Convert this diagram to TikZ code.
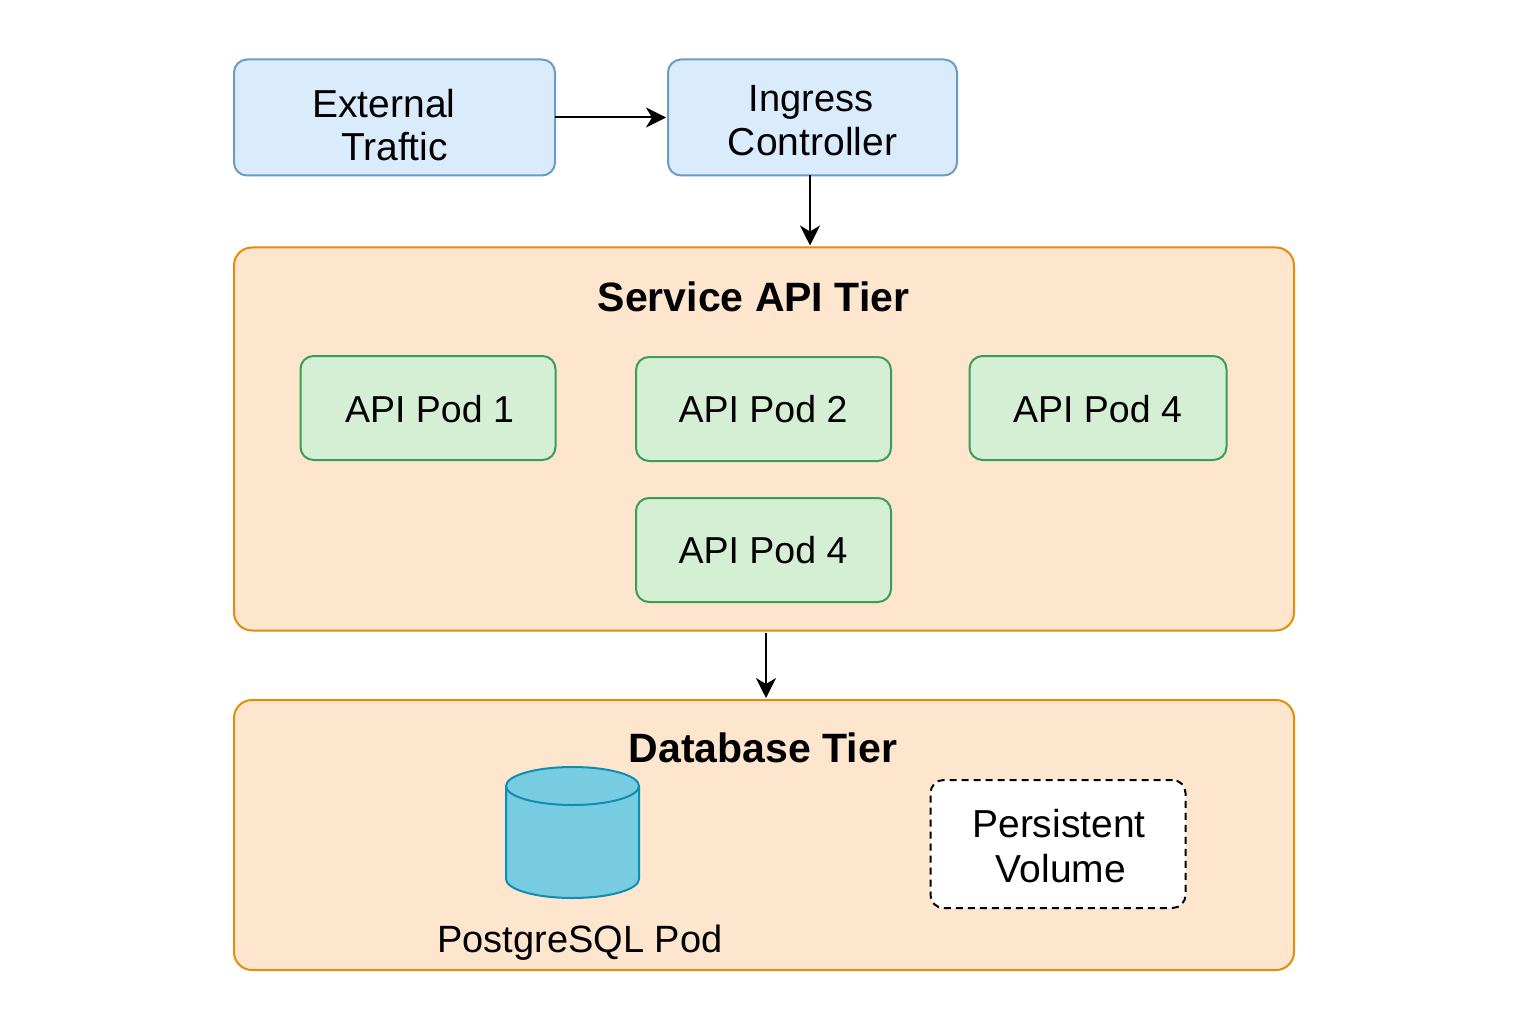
\documentclass[tikz,border=0pt]{standalone}
\usepackage{fontspec}
\setmainfont{Liberation Sans}
\usetikzlibrary{arrows.meta}
\definecolor{bluefill}{HTML}{DAEBFC}
\definecolor{bluedraw}{HTML}{6C9BC3}
\definecolor{orfill}{HTML}{FDE6CD}
\definecolor{ordraw}{HTML}{E08E0B}
\definecolor{grfill}{HTML}{D5EFD5}
\definecolor{grdraw}{HTML}{3A9E55}
\definecolor{cyfill}{HTML}{78CCE2}
\definecolor{cydraw}{HTML}{0E8DB5}
\tikzset{
  x=1pt,y=-1pt,
  box/.style={draw,rounded corners=13pt,line width=2pt,inner sep=0pt,outer sep=0pt},
  bluebox/.style={box,fill=bluefill,draw=bluedraw},
  tier/.style={box,fill=orfill,draw=ordraw,rounded corners=18pt},
  pod/.style={box,fill=grfill,draw=grdraw,minimum width=255pt,minimum height=104pt},
  lbl/.style={inner sep=0pt,outer sep=0pt,align=center,font=\fontsize{39}{44}\selectfont},
  podlbl/.style={inner sep=0pt,outer sep=0pt,font=\fontsize{37.5}{44}\selectfont},
  ttl/.style={inner sep=0pt,outer sep=0pt,font=\fontsize{41}{48}\selectfont\bfseries},
  flow/.style={draw=black,line width=2pt,shorten >=2pt,-{Stealth[length=20pt,width=20pt,inset=6pt]}},
}
\begin{document}
\begin{tikzpicture}
\useasboundingbox[fill=white] (0,0) rectangle (1536,1024);
% top boxes
\node[bluebox,minimum width=321pt,minimum height=116pt] (ext) at (394.5,117.5) {};
\node[bluebox,minimum width=289pt,minimum height=116pt] (ing) at (812.5,117.5) {};
\node[lbl] (extA) at (384,103.5) {External};
\node[lbl] (extB) at (394.5,147) {Traftic};
\node[lbl,font=\fontsize{38}{44}\selectfont] (ingA) at (811,102) {Ingress};
\node[lbl] (ingB) at (812.5,142) {Controller};
% tiers
\node[tier,minimum width=1060pt,minimum height=383pt] (svc) at (764,439) {};
\node[tier,minimum width=1060pt,minimum height=270pt] (db) at (764,835) {};
\node[ttl] (svcT) at (753.5,297) {Service API Tier};
\node[ttl] (dbT) at (763,748) {Database Tier};
% pods
\node[pod] (p1) at (428,408) {};
\node[pod] (p2) at (763.5,409) {};
\node[pod,minimum width=257pt] (p3) at (1098,408) {};
\node[pod] (p4) at (763.5,550) {};
\node[podlbl] (p1T) at (429.5,409) {API Pod 1};
\node[podlbl] (p2T) at (763,409) {API Pod 2};
\node[podlbl] (p3T) at (1097.5,409) {API Pod 4};
\node[podlbl] (p4T) at (763,550) {API Pod 4};
% cylinder
\filldraw[fill=cyfill,draw=cydraw,line width=2pt]
  (506,786) -- (506,879) arc[start angle=180,end angle=360,x radius=66.5pt,y radius=19pt]
  -- (639,786) arc[start angle=0,end angle=180,x radius=66.5pt,y radius=19pt] -- cycle;
\draw[cydraw,line width=2pt] (506,786) arc[start angle=180,end angle=360,x radius=66.5pt,y radius=19pt];
\node[lbl,font=\fontsize{38}{44}\selectfont] (pg) at (580,943) {PostgreSQL Pod};
% volume
\node[box,fill=white,draw=black,line width=2pt,minimum width=255pt,minimum height=128pt,dash pattern=on 7pt off 5pt] (pv) at (1058,844) {};
\node[lbl] (pvA) at (1059,824) {Persistent};
\node[lbl] (pvB) at (1061,868.5) {Volume};
% connectors
\draw[flow] (ext.east) -- (ing.west);
\draw[flow] ([xshift=-2.5pt]ing.south) -- ([xshift=46pt]svc.north);
\draw[flow] ([xshift=2pt,yshift=-2pt]svc.south) -- ([xshift=2pt]db.north);
\end{tikzpicture}
\end{document}
